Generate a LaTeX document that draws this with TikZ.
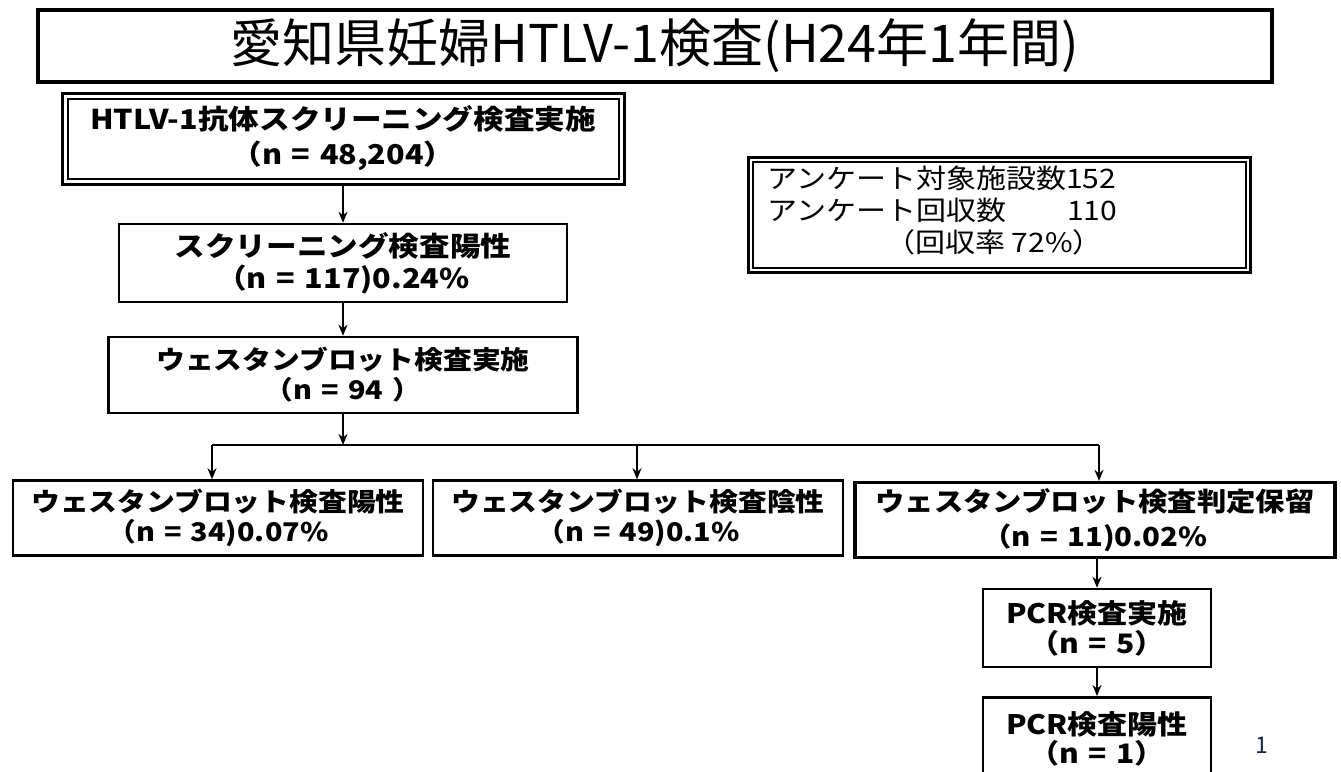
\documentclass[tikz,border=0pt]{standalone}
\usepackage{fontspec}
\setmainfont{Noto Sans CJK JP}
\newfontfamily\jps[FakeStretch=1.12]{Noto Sans CJK JP}
\newfontfamily\jpt{Noto Sans CJK JP}
\usetikzlibrary{arrows.meta}
\definecolor{pgnum}{RGB}{25,35,70}
\newcommand{\gapsp}{\hspace{0.35em}}
\begin{document}
\begin{tikzpicture}[x=1pt,y=-1pt,
  box/.style={draw=black, line width=2.5pt, fill=white, inner sep=0pt, align=center},
  bfa/.style={font=\jps\bfseries\fontsize{25.7}{30}\selectfont},
  arr/.style={line width=2pt, -{Stealth[length=11pt,width=9pt]}},
  plain/.style={line width=2.6pt}
  ]
\clip (0,0) rectangle (1341,771);
\fill[white] (0,0) rectangle (1341,771);

% title
\node[box, line width=4pt, minimum width=1234pt, minimum height=72pt,
      font=\jpt\fontsize{52}{60}\selectfont] (title) at (655,46)
  {愛知県妊婦HTLV-1検査(H24年1年間)};

% box 1 (double border)
\node[box, line width=3pt, minimum width=562pt, minimum height=91pt,
      font=\jps\bfseries\fontsize{27.3}{35}\selectfont] (b1) at (343,138.5)
  {HTLV-1抗体スクリーニング検査実施\\（n\gapsp=\gapsp48,204）};
\draw[line width=2pt] ([shift={(7,7)}]b1.north west) rectangle ([shift={(-7,-7)}]b1.south east);

% box 2
\node[box, minimum width=448pt, minimum height=78pt,
      font=\jps\bfseries\fontsize{27.3}{32}\selectfont] (b2) at (343,263)
  {スクリーニング検査陽性\\（n\gapsp=\gapsp117)0.24\%};

% box 3
\node[box, bfa, minimum width=469pt, minimum height=76pt] (b3) at (343,375)
  {ウェスタンブロット検査実施\\（n\gapsp=\gapsp94\gapsp）};

% WB result boxes
\node[box, bfa, minimum width=410pt, minimum height=75pt] (wbp) at (218,518)
  {ウェスタンブロット検査陽性\\（n\gapsp=\gapsp34)0.07\%};
\node[box, bfa, minimum width=410pt, minimum height=75pt] (wbn) at (638,518)
  {ウェスタンブロット検査陰性\\（n\gapsp=\gapsp49)0.1\%};
\node[box, line width=3.2pt, font=\jps\bfseries\fontsize{26.2}{35}\selectfont,
      minimum width=480pt, minimum height=75pt] (wbh) at (1095,520)
  {ウェスタンブロット検査判定保留\\（n\gapsp=\gapsp11)0.02\%};

% PCR boxes
\node[box, font=\jps\bfseries\fontsize{26.8}{30}\selectfont,
      minimum width=228pt, minimum height=78pt] (pcr1) at (1097,628)
  {PCR検査実施\\（n\gapsp=\gapsp5）};
\node[box, font=\jps\bfseries\fontsize{26.8}{29}\selectfont,
      minimum width=228pt, inner ysep=14pt, anchor=north] (pcr2) at (1097,696)
  {PCR検査陽性\\（n\gapsp=\gapsp1）};

% survey box (double border)
\node[box, line width=3pt, minimum width=502pt, minimum height=115pt] (sv) at (999,214.5) {};
\draw[line width=2pt] ([shift={(6,6)}]sv.north west) rectangle ([shift={(-6,-6)}]sv.south east);
\node[inner sep=0pt, anchor=west, align=left, font=\jps\fontsize{26.8}{32}\selectfont] (svt) at (767,210)
  {アンケート対象施設数152\\\makebox[300pt][l]{アンケート回収数}110\\\hspace*{118pt}（回収率 72\%）};

% page number
\node[font=\jpt\fontsize{23}{26}\selectfont, text=pgnum] (pg) at (1262,745) {1};

% connectors
\draw[arr] (b1.south) -- (b2.north);
\draw[arr] (b2.south) -- (b3.north);
\coordinate (j) at (343,445);
\coordinate (jl) at (212,445);
\coordinate (jm) at (637,445);
\coordinate (jr) at (1099,445);
\draw[arr] (b3.south) -- (j);
\draw[plain] (jl) -- (jr);
\draw[arr] (jl) -- (jl |- wbp.north);
\draw[arr] (jm) -- (jm |- wbn.north);
\draw[arr] (jr) -- (jr |- wbh.north);
\draw[arr] (wbh.south -| pcr1.north) -- (pcr1.north);
\draw[arr] (pcr1.south) -- (pcr2.north);
\end{tikzpicture}
\end{document}
